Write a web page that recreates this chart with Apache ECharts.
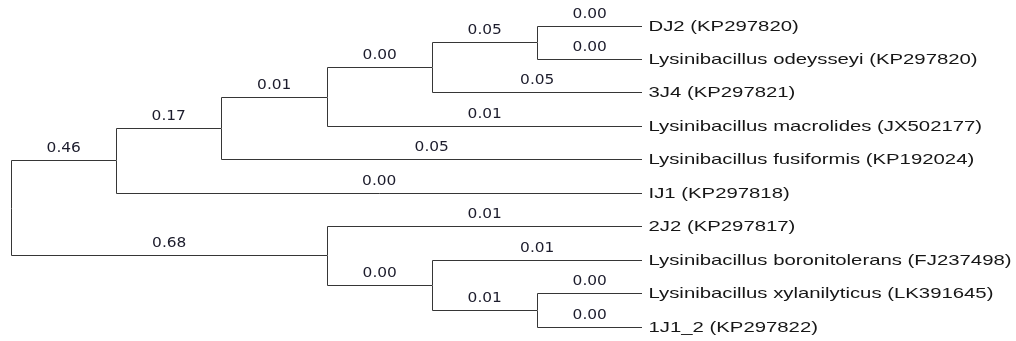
<!DOCTYPE html>
<html>
<head>
<meta charset="utf-8">
<script src="https://cdn.jsdelivr.net/npm/echarts@6/dist/echarts.min.js"></script>
<style>
html,body{margin:0;padding:0;background:#fff;}
#chart{width:1016px;height:341px;}
</style>
</head>
<body>
<div id="chart"></div>
<script>
// Leaf labels, top to bottom
const leafNames = [
  'DJ2 (KP297820)',
  'Lysinibacillus odeysseyi (KP297820)',
  '3J4 (KP297821)',
  'Lysinibacillus macrolides (JX502177)',
  'Lysinibacillus fusiformis (KP192024)',
  'IJ1 (KP297818)',
  '2J2 (KP297817)',
  'Lysinibacillus boronitolerans (FJ237498)',
  'Lysinibacillus xylanilyticus (LK391645)',
  '1J1_2 (KP297822)'
];
// Tree branches: child, parent, branch value shown on the branch
const branchChildren = [
  'c1', 'c6',
  'c2', 'IJ1 (KP297818)',
  'c3', 'Lysinibacillus fusiformis (KP192024)',
  'c4', 'Lysinibacillus macrolides (JX502177)',
  'c5', '3J4 (KP297821)',
  'DJ2 (KP297820)', 'Lysinibacillus odeysseyi (KP297820)',
  '2J2 (KP297817)', 'c7',
  'Lysinibacillus boronitolerans (FJ237498)', 'c8',
  'Lysinibacillus xylanilyticus (LK391645)', '1J1_2 (KP297822)'
];
const branchParents = [
  'root', 'root',
  'c1', 'c1',
  'c2', 'c2',
  'c3', 'c3',
  'c4', 'c4',
  'c5', 'c5',
  'c6', 'c6',
  'c7', 'c7',
  'c8', 'c8'
];
const branchValues = [
  0.46, 0.68,
  0.17, 0.00,
  0.01, 0.05,
  0.00, 0.01,
  0.05, 0.05,
  0.00, 0.00,
  0.01, 0.00,
  0.01, 0.01,
  0.00, 0.00
];

// ---- layout from topology (leaves aligned, internal nodes by height) ----
const kids = {};
branchChildren.forEach((c, i) => {
  (kids[branchParents[i]] = kids[branchParents[i]] || []).push(c);
});
const heightMemo = {};
function height(n) {
  if (heightMemo[n] !== undefined) return heightMemo[n];
  const h = kids[n] ? 1 + Math.max(...kids[n].map(height)) : 0;
  return (heightMemo[n] = h);
}
const yMemo = {};
function yPos(n) {
  if (yMemo[n] !== undefined) return yMemo[n];
  let y;
  if (kids[n]) { const ys = kids[n].map(yPos); y = ys.reduce((a, b) => a + b, 0) / ys.length; }
  else y = leafNames.indexOf(n);
  return (yMemo[n] = y);
}
const rootH = height('root');
const xPos = n => rootH - height(n);

const branchData = branchChildren.map((c, i) => {
  const p = branchParents[i];
  return [xPos(p), yPos(p), xPos(c), yPos(c), branchValues[i]];
});

const LINE = '#363636';
function renderItem(params, api) {
  const i = params.dataIndex;
  const p = api.coord([api.value(0), api.value(1)]);
  const c = api.coord([api.value(2), api.value(3)]);
  const px = Math.round(p[0]) + 0.5, py = Math.floor(p[1]) + 0.5;
  const cx = Math.round(c[0]), cy = Math.floor(c[1]) + 0.5;
  const children = [{
    type: 'polyline',
    shape: { points: [[px, py], [px, cy], [cx, cy]] },
    style: { stroke: LINE, lineWidth: 1, fill: null }
  }, {
    type: 'text',
    x: (px + cx) / 2, y: cy - 12.5, scaleX: 1.1,
    style: {
      text: api.value(4).toFixed(2), fontSize: 14, fontFamily: 'DejaVu Sans',
      fill: '#1c1c2c', align: 'center', verticalAlign: 'middle'
    }
  }];
  const child = branchChildren[i];
  if (!kids[child]) {
    children.push({
      type: 'text',
      x: cx + 6.5, y: cy + 0.5, scaleX: 1.355,
      style: {
        text: child, fontSize: 15, fontFamily: 'Liberation Sans',
        fill: '#161616', align: 'left', verticalAlign: 'middle'
      }
    });
  }
  return { type: 'group', children: children };
}

const chart = echarts.init(document.getElementById('chart'));
chart.setOption({
  animation: false,
  backgroundColor: '#ffffff',
  grid: { left: 11, right: 374, top: 26, bottom: 14 },
  xAxis: { type: 'value', min: 0, max: rootH, show: false },
  yAxis: { type: 'value', min: 0, max: leafNames.length - 1, inverse: true, show: false },
  series: [{
    type: 'custom',
    renderItem: renderItem,
    encode: { x: [0, 2], y: [1, 3] },
    data: branchData,
    clip: false
  }]
});
</script>
</body>
</html>
